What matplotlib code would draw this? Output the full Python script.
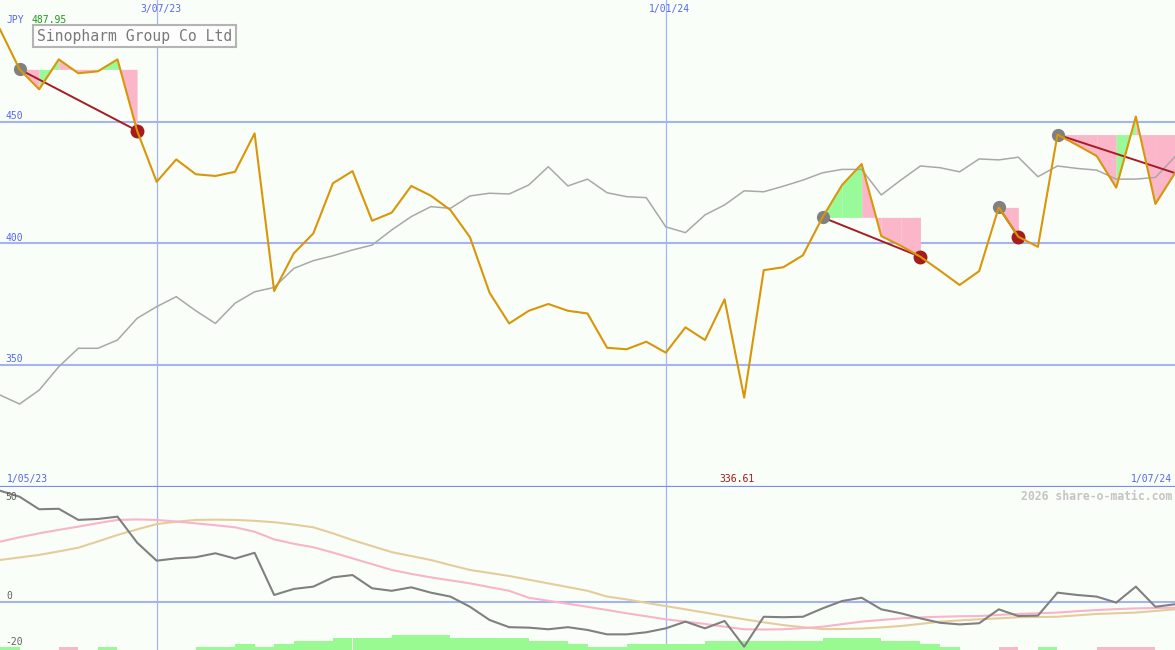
import numpy as np
import matplotlib
matplotlib.use("Agg")
import matplotlib.pyplot as plt

## data (weekly points)

price = [487.95, 471.5, 463.3, 475.6, 469.9, 470.7, 475.6, 446.3, 425.3, 434.5,
         428.4, 427.7, 429.4, 445.2, 380.4, 395.9, 404.1, 424.7, 429.7, 409.3,
         412.6, 423.6, 419.6, 413.7, 402.5, 379.7, 367.1, 372.3, 375.1, 372.3,
         371.2, 357.1, 356.5, 359.6, 355.1, 365.5, 360.3, 377.0, 336.61, 389.0,
         390.2, 395.1, 410.7, 424.0, 432.6, 403.0, 399.0, 394.5, 388.8, 382.9,
         388.6, 414.8, 402.7, 398.6, 444.7, 440.4, 435.9, 422.9, 452.1, 416.2,
         428.9]

market = [337.7, 334.0, 339.7, 349.3, 356.9, 356.9, 360.3, 369.2, 374.0, 378.1,
          372.3, 367.1, 375.4, 380.1, 381.9, 389.7, 392.9, 394.9, 397.3, 399.3,
          405.5, 411.0, 415.1, 414.4, 419.5, 420.6, 420.3, 424.0, 431.5, 423.6,
          426.4, 420.8, 419.2, 418.8, 406.8, 404.4, 411.7, 415.8, 421.6, 421.2,
          423.5, 426.0, 429.0, 430.4, 430.4, 419.9, 426.0, 431.8, 431.1, 429.4,
          434.7, 434.3, 435.4, 427.4, 431.8, 430.8, 430.1, 426.4, 426.4, 427.1,
          435.6]

osc = [47.9, 45.3, 39.9, 40.1, 35.3, 35.7, 36.7, 25.5, 17.7, 18.7,
       19.2, 20.9, 18.6, 21.1, 2.9, 5.5, 6.5, 10.5, 11.5, 5.8,
       4.7, 6.2, 3.9, 2.2, -2.2, -7.9, -11.0, -11.2, -11.9, -11.0,
       -12.2, -14.1, -14.1, -13.2, -11.5, -8.6, -11.5, -8.3, -19.4, -6.5,
       -6.7, -6.5, -2.9, 0.3, 1.7, -3.3, -5.0, -7.2, -9.1, -9.8,
       -9.3, -3.3, -6.2, -6.0, 3.9, 2.9, 2.2, -0.4, 6.5, -2.2,
       -1.1]

osc_fast = [25.9, 27.8, 29.5, 31.0, 32.4, 33.9, 35.3, 35.5, 35.3, 34.6,
            33.8, 33.0, 32.1, 30.2, 26.9, 25.0, 23.5, 21.2, 18.7, 16.2,
            13.7, 12.0, 10.5, 9.2, 7.9, 6.3, 4.7, 1.7, 0.4, -0.9,
            -2.2, -3.6, -5.0, -6.3, -7.6, -8.6, -9.6, -10.8, -11.9, -12.0,
            -11.9, -11.4, -10.8, -9.7, -8.6, -7.9, -7.2, -6.8, -6.5, -6.3,
            -6.2, -5.7, -5.3, -5.0, -4.7, -4.1, -3.6, -3.2, -2.9, -2.7,
            -2.6]

osc_slow = [18.0, 19.1, 20.2, 21.7, 23.3, 26.0, 28.8, 31.2, 33.5, 34.5,
            35.3, 35.4, 35.3, 34.9, 34.3, 33.3, 32.1, 29.5, 26.6, 24.0,
            21.4, 19.7, 18.0, 15.8, 13.7, 12.4, 11.1, 9.5, 7.9, 6.3,
            4.7, 2.2, 1.0, -0.5, -1.9, -3.3, -4.7, -6.2, -7.6, -8.9,
            -10.1, -11.0, -11.8, -11.8, -11.6, -11.1, -10.5, -9.6, -8.6, -8.1,
            -7.6, -7.2, -6.7, -6.6, -6.5, -5.9, -5.3, -5.0, -4.7, -4.0,
            -3.3]

# histogram steps per week (+ green, - pink)
hist = [1, 0, 0, -1, 0, 1, 0, 0, 0, 0, 1, 1, 2, 1, 2, 3, 3, 4, 4, 4,
        5, 5, 5, 4, 4, 4, 4, 3, 3, 2, 1, 1, 2, 2, 2, 2, 3, 3, 3, 3,
        3, 3, 4, 4, 4, 3, 3, 2, 1, 0, 0, -1, 0, 1, 0, 0, -1, -1, -1, 0]

# patterns: (start week, end week)
patterns = [(1, 7), (42, 47), (51, 52), (54, 60)]
green_segs = [2, 5, 42, 43, 57]

date_lines = [8, 34]
date_labels = ["3/07/23", "1/01/24"]
first_date = "1/05/23"
last_date = "1/07/24"

## style

bg = "#fafef8"
grid_c = "#a4b4f0"
mono = "DejaVu Sans Mono"
W, H = 1175, 650

fig = plt.figure(figsize=(W / 100, H / 100), dpi=100, facecolor=bg)
ax = fig.add_axes([0, 163 / H, 1, 487 / H])
ax2 = fig.add_axes([0, 0, 1, 163 / H])

x = np.arange(len(price))

for a in (ax, ax2):
    a.set_facecolor(bg)
    a.set_xlim(0, len(price) - 1)
    for s in a.spines.values():
        s.set_visible(False)
    a.set_xticks([])
    a.set_yticks([])
    for d in date_lines:
        a.axvline(d, color=grid_c, lw=0.9, zorder=1)

ax.set_ylim(299.9, 500.0)
ax2.set_ylim(-20.85, 49.5)

for lvl in (350, 400, 450):
    ax.axhline(lvl, color=grid_c, lw=1.5, zorder=1)
ax2.axhline(0, color=grid_c, lw=1.5, zorder=1)
ax.axhline(299.9, color="#7c8cec", lw=1.6, zorder=1, clip_on=False)

## main panel

ax.plot(x, market, color="#a8a8a8", lw=1.1, zorder=3)

for s, e in patterns:
    lvl = price[s]
    for i in range(s, e):
        c = "#98fa98" if i in green_segs else "#fbb6ca"
        ax.fill_between([i, i + 1], [lvl, lvl], [price[i], price[i + 1]],
                        color=c, lw=0, zorder=2)
    ax.plot([s, e], [price[s], price[e]], color="#a51c24", lw=1.4, zorder=4)
    ax.plot(s, price[s], "o", color="#808080", ms=8.5, zorder=4)
    if e < len(price) - 1:
        ax.plot(e, price[e], "o", color="#a51c1c", ms=9, zorder=4)

ax.plot(x, price, color="#d8960a", lw=1.5, zorder=5)

## lower panel

ax2.plot(x, osc_slow, color="#e4cc9c", lw=1.5, zorder=3)
ax2.plot(x, osc_fast, color="#f8b4c8", lw=1.5, zorder=3)
ax2.plot(x, osc, color="#808080", lw=1.5, zorder=4)

unit = 3 / 2.317
for i, v in enumerate(hist):
    if v == 0:
        continue
    c = "#98fa90" if v > 0 else "#fbb6ca"
    ax2.bar(i, abs(v) * unit, width=1, bottom=-20.85, align="edge",
            color=c, lw=0, zorder=2)

## texts (placed in pixels)

def ftxt(px, py, s, **kw):
    kw.setdefault("family", mono)
    kw.setdefault("fontsize", 7)
    fig.text(px / W, 1 - py / H, s, va="center", **kw)

blue = "#5566ee"
ftxt(6, 20, "JPY", color=blue)
ftxt(32, 20, "487.95", color="#1a9a1a")
for d, lab in zip(date_lines, date_labels):
    ftxt(d * W / 60 + 4, 9, lab, color=blue, ha="center")
ftxt(5, 116, "450", color=blue)
ftxt(5, 238, "400", color=blue)
ftxt(5, 359, "350", color=blue)

ftxt(7, 479, first_date, color=blue)
ftxt(1172, 479, last_date, color=blue, ha="right")
ftxt(price.index(min(price)) * W / 60 - 7, 479, "%.2f" % min(price),
     color="#a01818", ha="center")
ftxt(1172, 496, "2026 share-o-matic.com", color="#c4c4c4", ha="right",
     fontsize=8.3, fontweight="bold")

ftxt(5, 497, "50", color="#606060")
ftxt(6, 596, "0", color="#606060")
ftxt(5, 642, "-20", color="#606060")

fig.text(37 / W, 1 - 36 / H, "Sinopharm Group Co Ltd", family=mono,
         fontsize=10.6, color="#7a7a7a", va="center",
         bbox=dict(boxstyle="square,pad=0.25", fc="#fdfdfd", ec="#b4b4b4", lw=1.5))

fig.savefig("out.png", dpi=100, facecolor=bg)
